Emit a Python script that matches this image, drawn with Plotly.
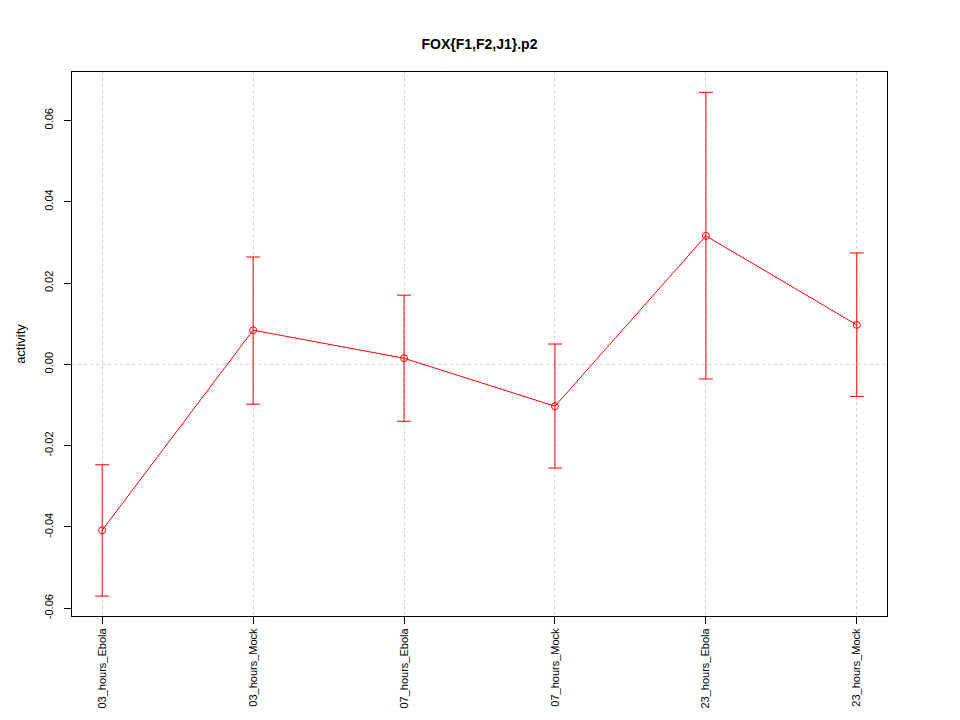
import plotly.graph_objects as go

categories = ["03_hours_Ebola", "03_hours_Mock", "07_hours_Ebola",
              "07_hours_Mock", "23_hours_Ebola", "23_hours_Mock"]
activity = [-0.0408, 0.0084, 0.0015, -0.0103, 0.0316, 0.0097]
err_plus = [0.0161, 0.0180, 0.0155, 0.0153, 0.0353, 0.0177]
err_minus = [0.0162, 0.0182, 0.0155, 0.0152, 0.0352, 0.0176]
y_ticks = [-0.06, -0.04, -0.02, 0.00, 0.02, 0.04, 0.06]
y_tick_text = ["-0.06", "-0.04", "-0.02", "0.00", "0.02", "0.04", "0.06"]

x_idx = list(range(len(categories)))

W, H = 952, 712

fig = go.Figure()
fig.add_trace(go.Scatter(
    x=x_idx, y=activity,
    mode="lines+markers",
    line=dict(color="#ff0000", width=1),
    marker=dict(symbol="circle-open", size=7, color="#ff0000", line=dict(width=1)),
    error_y=dict(type="data", symmetric=False, array=err_plus, arrayminus=err_minus,
                 color="#ff0000", thickness=1, width=7),
    showlegend=False,
))

fig.add_shape(type="line", xref="paper", yref="y", x0=0, x1=1, y0=0, y1=0,
              line=dict(color="#d0d0d0", width=1, dash="dot"), layer="below")

fig.update_layout(
    width=W, height=H,
    margin=dict(l=64, r=73, t=64, b=104),
    paper_bgcolor="white", plot_bgcolor="white",
    font=dict(family="Liberation Sans, Arial, sans-serif", size=11, color="black"),
    title=dict(text="<b>FOX{F1,F2,J1}.p2</b>", x=(64 + (W - 73 - 64) / 2) / W, xanchor="center",
               y=1 - 36 / H, yanchor="middle", font=dict(size=14)),
    xaxis=dict(
        range=[-0.2, 5.2], tickmode="array", tickvals=x_idx, ticktext=categories,
        tickangle=-90, ticks="outside", ticklen=7, tickcolor="black",
        showgrid=True, gridcolor="#d0d0d0", griddash="dot", gridwidth=1,
        zeroline=False, showline=True, linecolor="black", linewidth=1, mirror=True,
    ),
    yaxis=dict(
        range=[-0.0619, 0.0719], tickmode="array", tickvals=y_ticks, ticktext=y_tick_text,
        tickangle=-90, ticks="outside", ticklen=7, tickcolor="black",
        ticklabelstandoff=7,
        showgrid=False, zeroline=False, showline=True, linecolor="black", linewidth=1,
        mirror=True,
        title=dict(text="activity", standoff=14),
    ),
)

fig.write_html("out.html")
